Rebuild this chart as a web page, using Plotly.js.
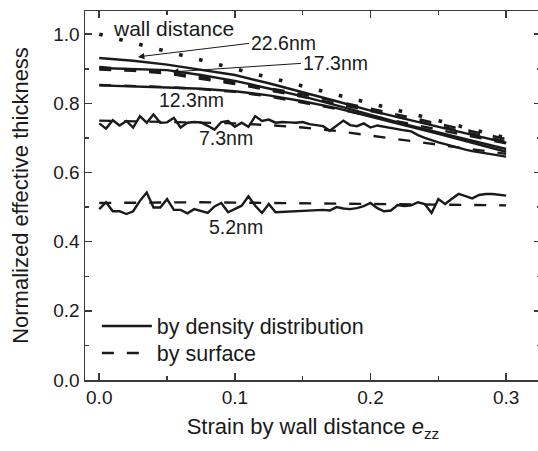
<!DOCTYPE html>
<html>
<head>
<meta charset="utf-8">
<script src="https://cdn.plot.ly/plotly-3.0.1.min.js"></script>
<style>
html,body{margin:0;padding:0;background:#fff;overflow:hidden;width:538px;height:451px;}
#chart{width:545px;height:451px;}
</style>
</head>
<body>
<div id="chart"></div>
<script>
// ---- data ----
const strainCoarse = [0, 0.025, 0.05, 0.075, 0.1, 0.125, 0.15, 0.175, 0.2, 0.225, 0.25, 0.275, 0.3];
const strainFine = [0,0.005,0.01,0.015,0.02,0.025,0.03,0.035,0.04,0.045,0.05,0.055,0.06,0.065,0.07,0.075,0.08,0.085,0.09,0.095,0.1,0.105,0.11,0.115,0.12,0.125,0.13,0.135,0.14,0.145,0.15,0.155,0.16,0.165,0.17,0.175,0.18,0.185,0.19,0.195,0.2,0.205,0.21,0.215,0.22,0.225,0.23,0.235,0.24,0.245,0.25,0.255,0.26,0.265,0.27,0.275,0.28,0.285,0.29,0.295,0.3];

const wallX = [0, 0.3];
const wallY = [1.0, 0.7];

const density226 = [0.931,0.923,0.912,0.898,0.882,0.858,0.833,0.806,0.779,0.755,0.732,0.709,0.686];
const density173 = [0.902,0.900,0.896,0.882,0.865,0.843,0.820,0.794,0.766,0.740,0.716,0.692,0.668];
const density123 = [0.852,0.850,0.846,0.842,0.835,0.823,0.806,0.786,0.762,0.737,0.712,0.686,0.660];
const density73 = [0.742,0.727,0.751,0.736,0.749,0.730,0.763,0.744,0.768,0.744,0.745,0.758,0.730,0.744,0.746,0.745,0.735,0.724,0.746,0.749,0.732,0.744,0.732,0.763,0.749,0.753,0.744,0.746,0.745,0.744,0.746,0.740,0.737,0.734,0.721,0.735,0.750,0.737,0.734,0.742,0.730,0.736,0.732,0.729,0.725,0.722,0.719,0.708,0.700,0.693,0.687,0.682,0.676,0.670,0.666,0.662,0.659,0.656,0.652,0.649,0.646];
const density52 = [0.494,0.514,0.488,0.488,0.480,0.488,0.518,0.542,0.499,0.499,0.523,0.492,0.492,0.482,0.494,0.489,0.483,0.502,0.512,0.485,0.494,0.504,0.531,0.504,0.483,0.509,0.485,0.486,0.488,0.489,0.490,0.490,0.491,0.492,0.490,0.500,0.496,0.494,0.497,0.503,0.512,0.497,0.488,0.490,0.506,0.503,0.505,0.514,0.509,0.483,0.523,0.509,0.524,0.538,0.532,0.525,0.535,0.538,0.538,0.535,0.533];

const surface226 = [0.905,0.898,0.889,0.876,0.861,0.844,0.826,0.806,0.785,0.763,0.741,0.719,0.697];
const surface173 = [0.898,0.894,0.886,0.872,0.856,0.838,0.819,0.799,0.778,0.757,0.735,0.712,0.690];
const surface123 = [0.853,0.851,0.847,0.841,0.833,0.820,0.803,0.784,0.764,0.744,0.724,0.704,0.684];
const surface73 = [0.750,0.748,0.746,0.745,0.742,0.737,0.730,0.720,0.707,0.693,0.680,0.667,0.654];
const surface52 = [0.512,0.513,0.514,0.514,0.513,0.512,0.511,0.510,0.509,0.508,0.507,0.506,0.505];

const legendNames = ["by density distribution", "by surface"];
const thicknessLabels = ["22.6nm", "17.3nm", "12.3nm", "7.3nm", "5.2nm"];

// ---- styling ----
const INK = "#1a1a1a";
const AXIS = "#3a3a3a";
const FONT = "Liberation Sans, Arial, sans-serif";
const solidLine = {color: INK, width: 2.4, dash: "solid"};
const dashLine = {color: INK, width: 2.4, dash: "12px,13px"};

function tr(x, y, line, name, show, legendId) {
  return {x: x, y: y, type: "scatter", mode: "lines", line: line,
          name: name || "", showlegend: !!show, legend: legendId || "legend", hoverinfo: "skip"};
}

const traces = [
  tr(wallX, wallY, {color: INK, width: 3.6, dash: "3.6px,17px"}, "wall", false),
  tr(strainCoarse, density226, solidLine, legendNames[0], true, "legend"),
  tr(strainCoarse, surface226, dashLine, legendNames[1], true, "legend2"),
  tr(strainCoarse, density173, solidLine),
  tr(strainCoarse, surface173, dashLine),
  tr(strainCoarse, density123, solidLine),
  tr(strainCoarse, surface123, dashLine),
  tr(strainFine, density73, solidLine),
  tr(strainCoarse, surface73, dashLine),
  tr(strainFine, density52, solidLine),
  tr(strainCoarse, surface52, dashLine)
];

const axisCommon = {
  showline: true, linecolor: AXIS, linewidth: 1.5, mirror: "allticks",
  ticks: "inside", ticklen: 7, tickwidth: 1.5, tickcolor: AXIS,
  showgrid: false, zeroline: false,
  tickfont: {family: FONT, size: 19, color: INK},
  minor: {ticks: "inside", ticklen: 4, tickwidth: 1.5, tickcolor: AXIS, showgrid: false}
};

const legendCommon = {xanchor: "left", yanchor: "middle", bgcolor: "rgba(0,0,0,0)",
  font: {family: FONT, size: 21.5, color: INK}, itemwidth: 50, borderwidth: 0};

const layout = {
  width: 545, height: 451,
  margin: {l: 85, r: 4, t: 11, b: 71},
  paper_bgcolor: "#fff", plot_bgcolor: "#fff",
  font: {family: FONT, color: INK},
  xaxis: Object.assign({}, axisCommon, {
    range: [-0.0105, 0.3257], tickvals: [0, 0.1, 0.2, 0.3], ticktext: ["0.0","0.1","0.2","0.3"],
    minor: Object.assign({}, axisCommon.minor, {tickvals: [0.05, 0.15, 0.25]}),
    title: {text: "Strain by wall distance <i>e</i><sub>zz</sub>", font: {family: FONT, size: 22, color: INK}, standoff: 11},
    automargin: false
  }),
  yaxis: Object.assign({}, axisCommon, {
    range: [0, 1.067], tickvals: [0, 0.2, 0.4, 0.6, 0.8, 1.0], ticktext: ["0.0","0.2","0.4","0.6","0.8","1.0"],
    minor: Object.assign({}, axisCommon.minor, {tickvals: [0.1, 0.3, 0.5, 0.7, 0.9]}),
    title: {text: "Normalized effective thickness", font: {family: FONT, size: 22, color: INK}, standoff: 18},
    automargin: false
  }),
  showlegend: true,
  legend: Object.assign({}, legendCommon, {x: 0.026, y: 0.1463}),
  legend2: Object.assign({}, legendCommon, {x: 0.026, y: 0.0732}),
  annotations: [
    {x: 0.009, y: 1.015, xref: "x", yref: "y", text: "wall distance", showarrow: false,
     xanchor: "left", yanchor: "middle", font: {family: FONT, size: 21, color: INK}},
    {x: 0.0285, y: 0.9343, ax: 0.1105, ay: 0.9734, xref: "x", yref: "y", axref: "x", ayref: "y",
     text: thicknessLabels[0], showarrow: true, xanchor: "left", yanchor: "middle",
     arrowhead: 2, arrowsize: 1.3, arrowwidth: 1, arrowcolor: INK, standoff: 0,
     font: {family: FONT, size: 19.5, color: INK}},
    {x: 0.0536, y: 0.891, ax: 0.1487, ay: 0.9155, xref: "x", yref: "y", axref: "x", ayref: "y",
     text: thicknessLabels[1], showarrow: true, xanchor: "left", yanchor: "middle",
     arrowhead: 2, arrowsize: 1.3, arrowwidth: 1, arrowcolor: INK, standoff: 0,
     font: {family: FONT, size: 19.5, color: INK}},
    {x: 0.0423, y: 0.811, xref: "x", yref: "y", text: thicknessLabels[2], showarrow: false,
     xanchor: "left", yanchor: "middle", font: {family: FONT, size: 19.5, color: INK}},
    {x: 0.0718, y: 0.7007, xref: "x", yref: "y", text: thicknessLabels[3], showarrow: false,
     xanchor: "left", yanchor: "middle", font: {family: FONT, size: 19.5, color: INK}},
    {x: 0.0792, y: 0.4417, xref: "x", yref: "y", text: thicknessLabels[4], showarrow: false,
     xanchor: "left", yanchor: "middle", font: {family: FONT, size: 19.5, color: INK}}
  ]
};

Plotly.newPlot("chart", traces, layout, {displayModeBar: false, staticPlot: true});
</script>
</body>
</html>
